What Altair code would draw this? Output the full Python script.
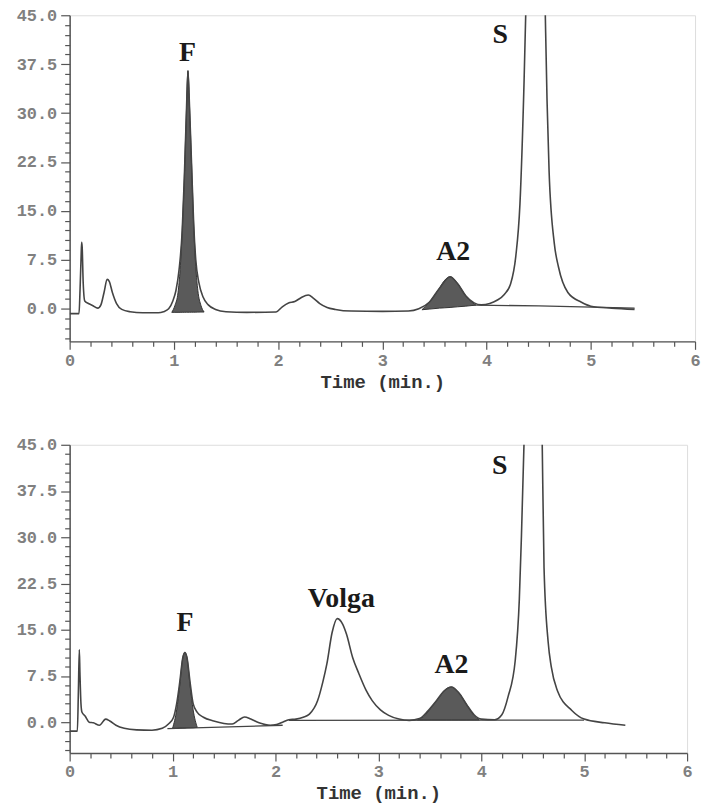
import altair as alt
import pandas as pd

# ---------------- data ----------------
# Panel 1 (top) chromatogram: time (min) and signal
top_t = [0.00, 0.09, 0.10, 0.11, 0.115, 0.12, 0.13, 0.145, 0.18, 0.22, 0.27, 0.30, 0.33, 0.36, 0.38,
         0.41, 0.45, 0.50, 0.58, 0.70, 0.85, 0.90, 0.95, 0.99, 1.02, 1.05, 1.08, 1.10, 1.12, 1.135,
         1.15, 1.17, 1.19, 1.21, 1.24, 1.28, 1.33, 1.40, 1.50, 1.70, 1.98, 2.04, 2.10, 2.16, 2.22,
         2.29, 2.34, 2.40, 2.47, 2.55, 2.70, 3.00, 3.25, 3.35, 3.45, 3.55, 3.65, 3.72, 3.80, 3.88,
         3.95, 4.03, 4.10, 4.17, 4.23, 4.28, 4.32, 4.36, 4.38, 4.42, 4.52, 4.56, 4.58, 4.60, 4.65,
         4.69, 4.78, 4.91, 5.00, 5.20, 5.42]
top_v = [-0.75, -0.75, 3.0, 8.0, 10.2, 9.5, 4.0, 1.2, 0.8, 0.5, 0.1, 0.6, 2.5, 4.5, 4.2,
         2.5, 0.8, -0.1, -0.45, -0.6, -0.6, -0.45, 0.0, 1.2, 2.8, 6.0, 12.0, 20.0, 30.0, 36.5,
         31.0, 22.0, 13.0, 7.5, 4.0, 1.8, 0.6, -0.1, -0.45, -0.55, -0.5, 0.3, 0.9, 1.1, 1.7,
         2.1, 1.6, 0.8, 0.2, -0.1, -0.35, -0.4, -0.35, 0.0, 1.0, 3.2, 4.9, 3.9, 2.0, 0.9,
         0.6, 0.8, 1.3, 2.2, 3.8, 8.0, 16.0, 35.0, 48.0, 80.0, 80.0, 48.0, 32.0, 21.0, 10.0,
         6.4, 2.5, 1.0, 0.4, 0.1, -0.1]

# Panel 1 shaded peaks (fitted peak F and A2) with their integration baseline
top_f_t = [0.98, 1.01, 1.04, 1.06, 1.08, 1.10, 1.12, 1.135, 1.15, 1.17, 1.19, 1.21, 1.23, 1.26, 1.29]
top_f_v = [-0.55, 0.5, 2.5, 6.0, 12.0, 20.0, 30.0, 36.5, 31.0, 22.0, 13.0, 6.5, 2.8, 0.5, -0.5]
top_f_b = [-0.55, -0.55, -0.55, -0.55, -0.54, -0.54, -0.53, -0.53, -0.53, -0.52, -0.52, -0.52, -0.51, -0.5, -0.5]
top_a2_t = [3.38, 3.45, 3.55, 3.60, 3.65, 3.72, 3.80, 3.86, 3.90]
top_a2_v = [-0.15, 1.0, 3.2, 4.4, 4.9, 3.9, 2.0, 1.0, 0.55]
top_a2_b = [-0.15, -0.05, 0.1, 0.15, 0.2, 0.3, 0.4, 0.5, 0.55]
top_base_t = [3.90, 4.50, 5.42]
top_base_v = [0.55, 0.45, 0.1]

# Panel 2 (bottom) chromatogram
bot_t = [0.00, 0.075, 0.085, 0.094, 0.10, 0.11, 0.12, 0.15, 0.19, 0.23, 0.29, 0.35, 0.39, 0.45, 0.53,
         0.65, 0.80, 0.90, 0.96, 1.01, 1.04, 1.07, 1.10, 1.12, 1.14, 1.17, 1.20, 1.24, 1.30, 1.40,
         1.50, 1.58, 1.64, 1.70, 1.76, 1.84, 1.95, 2.01, 2.07, 2.13, 2.20, 2.27, 2.33, 2.41, 2.46,
         2.50, 2.55, 2.60, 2.65, 2.69, 2.75, 2.81, 2.88, 2.94, 3.02, 3.10, 3.20, 3.30, 3.40, 3.48,
         3.56, 3.64, 3.71, 3.78, 3.86, 3.93, 4.00, 4.13, 4.20, 4.26, 4.33, 4.37, 4.39, 4.42, 4.46,
         4.55, 4.59, 4.61, 4.65, 4.68, 4.74, 4.88, 5.00, 5.20, 5.40]
bot_v = [-1.45, -1.45, 5.0, 11.8, 8.0, 3.0, 1.6, 1.0, 0.0, -0.1, -0.5, 0.5, 0.2, -0.5, -1.0,
         -1.25, -1.3, -1.0, -0.3, 0.8, 3.0, 6.5, 10.5, 11.3, 10.5, 6.5, 3.0, 1.6, 0.8, 0.2,
         -0.2, -0.3, 0.3, 0.85, 0.5, -0.1, -0.5, -0.4, 0.0, 0.4, 0.5, 0.8, 1.3, 3.5, 6.5,
         9.5, 14.5, 16.8, 16.0, 14.3, 10.5, 7.9, 5.2, 3.5, 2.0, 1.1, 0.5, 0.3, 0.6, 1.8,
         3.4, 5.1, 5.7, 4.8, 2.8, 1.2, 0.5, 0.4, 1.2, 4.1, 10.0, 20.0, 30.0, 48.0, 80.0,
         80.0, 48.0, 25.0, 13.0, 9.0, 5.1, 1.9, 0.5, -0.1, -0.5]

bot_f_t = [1.00, 1.04, 1.07, 1.10, 1.12, 1.14, 1.17, 1.20, 1.24]
bot_f_v = [-1.0, 2.0, 6.0, 10.5, 11.3, 10.5, 6.0, 2.0, -0.85]
bot_f_b = [-1.0, -1.0, -0.95, -0.95, -0.95, -0.9, -0.9, -0.9, -0.85]
bot_a2_t = [3.38, 3.44, 3.52, 3.60, 3.66, 3.71, 3.78, 3.86, 3.93, 3.98]
bot_a2_v = [0.35, 0.9, 2.5, 4.2, 5.4, 5.7, 4.8, 2.8, 1.1, 0.35]
bot_a2_b = [0.35, 0.35, 0.35, 0.35, 0.35, 0.35, 0.35, 0.35, 0.35, 0.35]
bot_base1_t = [0.95, 2.07]
bot_base1_v = [-1.05, -0.5]
bot_base2_t = [2.13, 5.00]
bot_base2_v = [0.3, 0.35]

# Peak labels
top_lab_text = ["F", "A2", "S"]
top_lab_t = [1.13, 3.68, 4.13]
top_lab_v = [39.2, 8.7, 41.9]
bot_lab_text = ["F", "Volga", "A2", "S"]
bot_lab_t = [1.12, 2.64, 3.71, 4.18]
bot_lab_v = [16.1, 19.9, 9.2, 41.5]

# Axis ticks and labels
x_ticks = [round(0.2 * i, 1) for i in range(31)]
y_ticks = [round(-4.5 + 1.5 * i, 1) for i in range(34)]
x_domain = [0, 6]
y_domain = [-5, 45]

# ---------------- chart ----------------
LINE = "#444444"
FILL = "#5a5a5a"
MONO = "Liberation Mono"

X_MAJOR = "abs(datum.value - round(datum.value)) < 0.001"
Y_MAJOR = "abs(datum.value % 7.5) < 0.001"


def xenc():
    return alt.X(
        "t:Q",
        scale=alt.Scale(domain=x_domain, nice=False, zero=False),
        axis=alt.Axis(
            values=x_ticks,
            labelExpr=X_MAJOR + " ? format(datum.value, 'd') : ''",
            title="Time (min.)",
            labelFont=MONO, labelFontWeight="bold", labelFontSize=17, labelColor="#808080",
            titleFont=MONO, titleFontWeight="bold", titleFontSize=19, titleColor="#333333",
            tickSize={"condition": {"test": X_MAJOR, "value": 8}, "value": 5},
            tickColor="#555555", tickWidth=1.2,
            domainColor="#555555", domainWidth=1.5, grid=False,
            labelPadding=3, titlePadding=4, labelOverlap=False, labelFlush=False,
        ),
    )


def yenc(field="v"):
    return alt.Y(
        f"{field}:Q",
        scale=alt.Scale(domain=y_domain, nice=False, zero=False),
        axis=alt.Axis(
            values=y_ticks,
            labelExpr=Y_MAJOR + " ? format(datum.value, '.1f') : ''",
            title=None,
            labelFont=MONO, labelFontWeight="bold", labelFontSize=17, labelColor="#808080",
            tickSize={"condition": {"test": Y_MAJOR, "value": 9}, "value": 5},
            tickColor="#555555", tickWidth=1.2,
            domainColor="#555555", domainWidth=1.5, grid=False,
            labelPadding=4, labelOverlap=False, labelFlush=False, minExtent=61,
        ),
    )


def panel(main_t, main_v, shades, bases, lab_text, lab_t, lab_v, w, h):
    main_df = pd.DataFrame({"t": main_t, "v": main_v})
    shade_df = pd.concat(
        [pd.DataFrame({"t": s[0], "v": s[1], "b": s[2], "pk": i}) for i, s in enumerate(shades)],
        ignore_index=True,
    )
    base_df = pd.concat(
        [pd.DataFrame({"t": b[0], "v": b[1], "seg": i}) for i, b in enumerate(bases)],
        ignore_index=True,
    )
    lab_df = pd.DataFrame({"label": lab_text, "t": lab_t, "v": lab_v})

    area = alt.Chart(shade_df).mark_area(
        color=FILL, stroke="#333333", strokeWidth=1, clip=True, interpolate="monotone"
    ).encode(x=xenc(), y=yenc(), y2="b:Q", detail="pk:N")

    base = alt.Chart(base_df).mark_line(color=LINE, strokeWidth=1.3, clip=True).encode(
        x=xenc(), y=yenc(), detail="seg:N"
    )

    line = alt.Chart(main_df).mark_line(
        color=LINE, strokeWidth=1.6, clip=True, interpolate="monotone"
    ).encode(x=xenc(), y=yenc())

    text = alt.Chart(lab_df).mark_text(
        font="Liberation Serif", fontWeight="bold", fontSize=28, color="#1a1a1a",
        baseline="middle", align="center",
    ).encode(x=xenc(), y=yenc(), text="label:N")

    return alt.layer(area, base, line, text).properties(width=w, height=h)


top = panel(
    top_t, top_v,
    [(top_f_t, top_f_v, top_f_b), (top_a2_t, top_a2_v, top_a2_b)],
    [(top_base_t, top_base_v)],
    top_lab_text, top_lab_t, top_lab_v, 629, 328,
)
bottom = panel(
    bot_t, bot_v,
    [(bot_f_t, bot_f_v, bot_f_b), (bot_a2_t, bot_a2_v, bot_a2_b)],
    [(bot_base1_t, bot_base1_v), (bot_base2_t, bot_base2_v)],
    bot_lab_text, bot_lab_t, bot_lab_v, 621, 310,
)

chart = alt.vconcat(top, bottom, spacing=43).properties(
    padding={"left": 0, "top": -5, "right": 0, "bottom": 0}
).configure_view(stroke="#555555", strokeWidth=1.5).configure(background="white")

chart.save("out.html", embed_options={"renderer": "svg", "actions": False})
